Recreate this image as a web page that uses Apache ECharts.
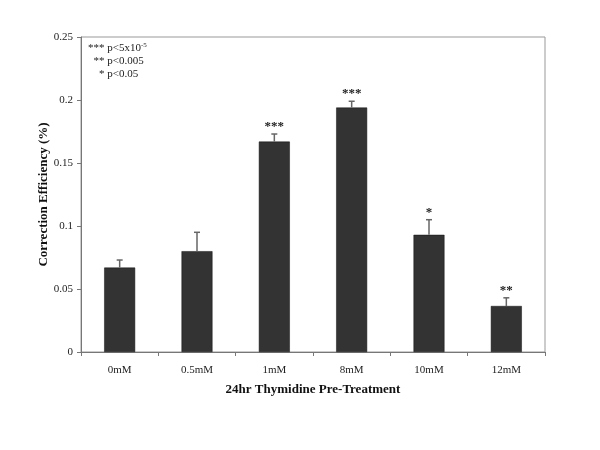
<!DOCTYPE html>
<html><head><meta charset="utf-8">
<script src="https://cdn.jsdelivr.net/npm/echarts@6/dist/echarts.min.js"></script>
<style>html,body{margin:0;padding:0;background:#fff}#c{width:600px;height:450px}</style>
</head><body><div id="c"></div>
<script>
const categories = ['0mM','0.5mM','1mM','8mM','10mM','12mM'];
const values = [0.067, 0.080, 0.167, 0.194, 0.093, 0.0365];
const errors = [0.006, 0.015, 0.006, 0.005, 0.012, 0.0065];
const marks = ['', '', '***', '***', '*', '**'];
const yTicks = [0, 0.05, 0.1, 0.15, 0.2, 0.25];

const chart = echarts.init(document.getElementById('c'));
const serif = '"Liberation Serif", "DejaVu Serif", serif';
chart.setOption({
  animation: false,
  backgroundColor: '#fff',
  grid: {left: 81, right: 55, top: 37, bottom: 98, show: true, borderColor: '#999', borderWidth: 1},
  xAxis: {
    type: 'category', data: categories,
    axisLine: {lineStyle: {color: '#777'}},
    axisTick: {show: true, alignWithLabel: false, length: 4, lineStyle: {color: '#777'}},
    axisLabel: {color: '#222', fontFamily: serif, fontSize: 11, margin: 13},
    name: '24hr Thymidine Pre-Treatment', nameLocation: 'middle', nameGap: 31,
    nameTextStyle: {color: '#111', fontFamily: serif, fontSize: 13, fontWeight: 'bold'}
  },
  yAxis: {
    type: 'value', min: 0, max: 0.25, interval: 0.05,
    splitLine: {show: false},
    axisLine: {show: true, lineStyle: {color: '#777'}},
    axisTick: {show: true, length: 4, lineStyle: {color: '#777'}},
    axisLabel: {color: '#222', fontFamily: serif, fontSize: 11, margin: 8,
      formatter: v => yTicks.includes(Math.round(v*100)/100) ? String(Math.round(v*100)/100) : ''},
    name: 'Correction Efficiency (%)', nameLocation: 'middle', nameGap: 31, nameMoveOverlap: false,
    nameTextStyle: {color: '#111', fontFamily: serif, fontSize: 13, fontWeight: 'bold'}
  },
  graphic: [{
    type: 'text', left: 88, top: 42,
    style: {
      text: '{a|*** p<5x10}{s|-5}\n{a|  ** p<0.005}\n{a|    * p<0.05}',
      rich: {
        a: {fontFamily: serif, fontSize: 11, fill: '#222', lineHeight: 13},
        s: {fontFamily: serif, fontSize: 7, fill: '#222', verticalAlign: 'top', padding: [0,0,6,0]}
      }
    }
  }],
  series: [{
    type: 'bar', data: values, barWidth: '40%',
    itemStyle: {color: '#333333', borderColor: '#111', borderWidth: 0.5}
  }, {
    type: 'custom',
    data: values.map((v, i) => [i, v, v + errors[i], marks[i]]),
    renderItem: (params, api) => {
      const x = api.value(0);
      const p0 = api.coord([x, api.value(1)]);
      const p1 = api.coord([x, api.value(2)]);
      return {type: 'group', children: [
        {type: 'line', shape: {x1: p0[0], y1: p0[1], x2: p1[0], y2: p1[1]}, style: {stroke: '#666', lineWidth: 1.5}},
        {type: 'line', shape: {x1: p1[0]-3, y1: p1[1], x2: p1[0]+3, y2: p1[1]}, style: {stroke: '#666', lineWidth: 1.5}},
        {type: 'text', style: {text: api.value(3) || '', x: p1[0], y: p1[1] - 1, align: 'center', verticalAlign: 'bottom',
          fontFamily: serif, fontSize: 13, fontWeight: 'bold', fill: '#222'}}
      ]};
    },
    encode: {x: 0, y: [1, 2]},
    z: 3
  }]
});
</script></body></html>
